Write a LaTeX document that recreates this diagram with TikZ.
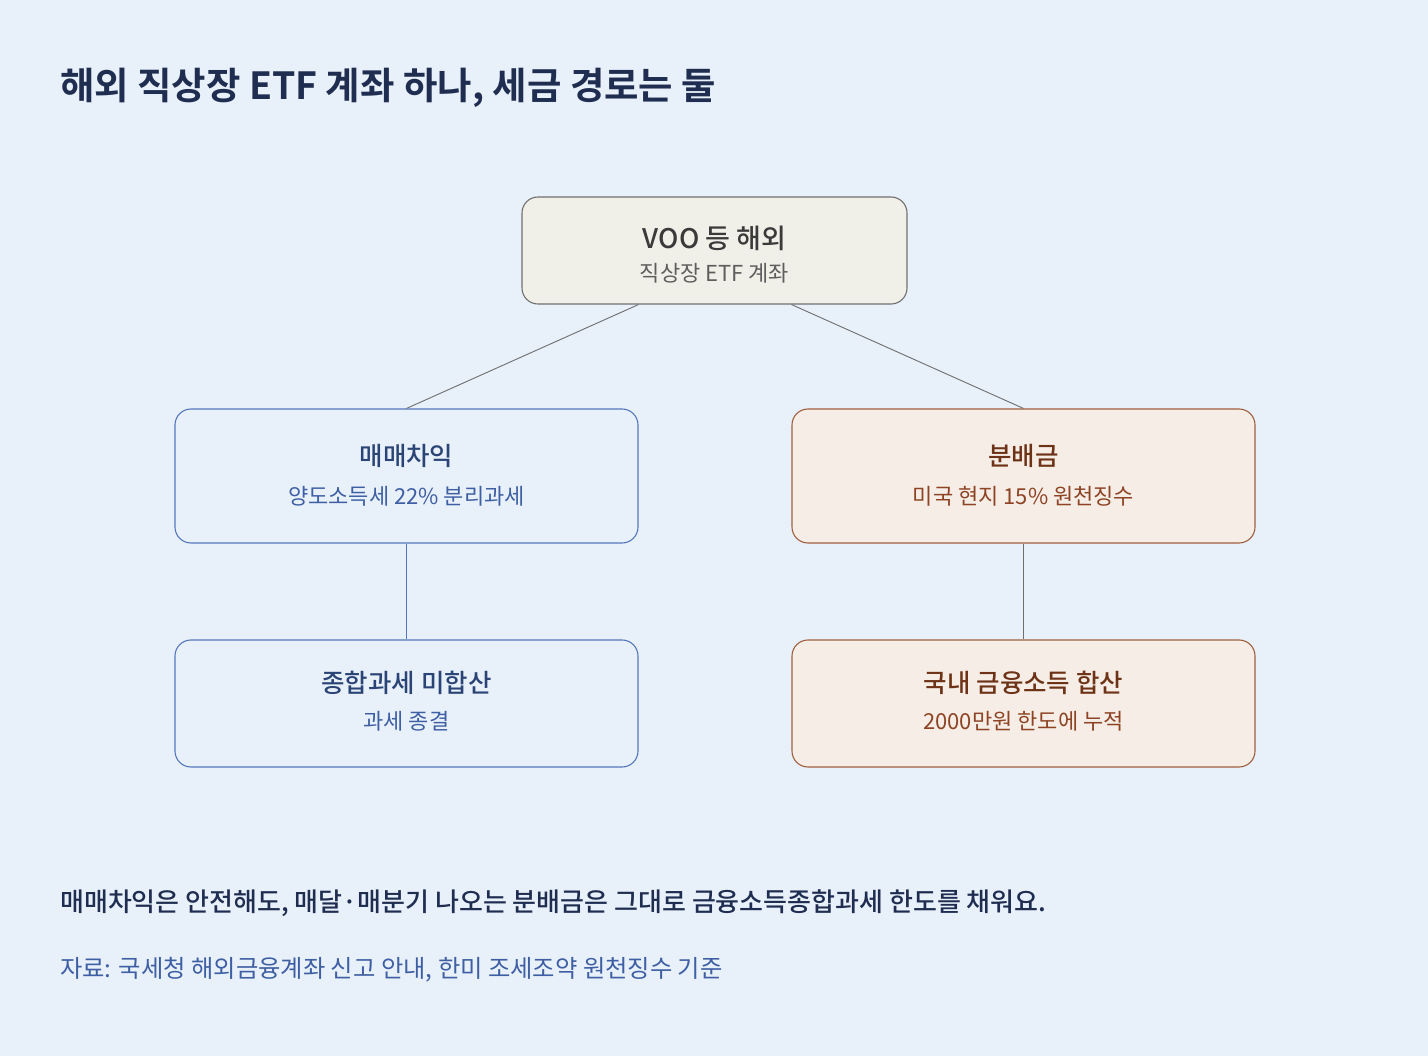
\documentclass[tikz,border=0pt]{standalone}
\usepackage{fontspec}
\setmainfont{Noto Sans CJK KR}[BoldFont={Noto Sans CJK KR Medium}]
\newfontfamily\heavyfont{Noto Sans CJK KR Bold}
\definecolor{bg}{HTML}{E8F0FA}
\definecolor{navy}{HTML}{1F2D50}
\definecolor{topfill}{HTML}{F1F0E8}
\definecolor{topline}{HTML}{707070}
\definecolor{toptext}{HTML}{3A3A3A}
\definecolor{topsub}{HTML}{5E5E5E}
\definecolor{bluefill}{HTML}{E8F0FA}
\definecolor{blueline}{HTML}{5577BB}
\definecolor{bluetitle}{HTML}{2B4476}
\definecolor{bluesub}{HTML}{3E5FA3}
\definecolor{brownfill}{HTML}{F5EDE6}
\definecolor{brownline}{HTML}{A0603F}
\definecolor{browntitle}{HTML}{6E3317}
\definecolor{brownsub}{HTML}{8E4424}
\definecolor{conn}{HTML}{6E6E6E}
\tikzset{
  boxbase/.style={rounded corners=16pt, line width=1.1pt, inner sep=0pt},
  topbox/.style={boxbase, draw=topline, fill=topfill, minimum width=385pt, minimum height=107pt},
  bluebox/.style={boxbase, draw=blueline, fill=bluefill, minimum width=463pt},
  brownbox/.style={boxbase, draw=brownline, fill=brownfill, minimum width=463pt},
  ttl/.style={anchor=base, inner sep=0pt, font=\fontsize{25.5pt}{30pt}\selectfont\bfseries},
  sub/.style={anchor=base, inner sep=0pt, font=\fontsize{22pt}{26pt}\selectfont},
  link/.style={line width=0.9pt},
}
\begin{document}
\begin{tikzpicture}[x=1pt,y=-1pt]
\fill[bg] (0,0) rectangle (1428,1056);
\useasboundingbox (0,0) rectangle (1428,1056);

\node[anchor=base west, inner sep=0pt, text=navy, font=\fontsize{37.4pt}{42pt}\selectfont\heavyfont] (title) at (60,100) {해외 직상장 ETF 계좌 하나, 세금 경로는 둘};

\node[topbox] (top) at (714.5,250.5) {};
\node[ttl, text=toptext, font=\fontsize{27pt}{32pt}\selectfont\bfseries] (topT) at (top.center |- 0,249) {VOO 등 해외};
\node[sub, text=topsub] (topS) at (top.center |- 0,282) {직상장 ETF 계좌};

\node[bluebox, minimum height=134pt] (gain) at (406.5,476) {};
\node[ttl, text=bluetitle] (gainT) at (gain.center |- 0,466) {매매차익};
\node[sub, text=bluesub] (gainS) at (gain.center |- 0,504) {양도소득세 22\% 분리과세};

\node[brownbox, minimum height=134pt] (div) at (1023.5,476) {};
\node[ttl, text=browntitle] (divT) at (div.center |- 0,466) {분배금};
\node[sub, text=brownsub] (divS) at (div.center |- 0,504) {미국 현지 15\% 원천징수};

\node[bluebox, minimum height=127pt] (sep) at (406.5,703.5) {};
\node[ttl, text=bluetitle] (sepT) at (sep.center |- 0,692) {종합과세 미합산};
\node[sub, text=bluesub] (sepS) at (sep.center |- 0,729) {과세 종결};

\node[brownbox, minimum height=127pt] (sum) at (1023.5,703.5) {};
\node[ttl, text=browntitle] (sumT) at (sum.center |- 0,692) {국내 금융소득 합산};
\node[sub, text=brownsub] (sumS) at (sum.center |- 0,729) {2000만원 한도에 누적};

\coordinate (topL) at ([xshift=-76pt]top.south);
\coordinate (topR) at ([xshift=77pt]top.south);
\draw[link, draw=conn] (topL) -- (gain.north);
\draw[link, draw=conn] (topR) -- (div.north);
\draw[link, draw=blueline] (gain.south) -- (sep.north);
\draw[link, draw=conn] (div.south) -- (sum.north);

\node[anchor=base west, inner sep=0pt, text=navy, font=\fontsize{26pt}{30pt}\selectfont\bfseries] (note) at (60,911) {매매차익은 안전해도, 매달·매분기 나오는 분배금은 그대로 금융소득종합과세 한도를 채워요.};
\node[anchor=base west, inner sep=0pt, text=bluesub, font=\fontsize{24.3pt}{28pt}\selectfont] (src) at (60,977) {자료: 국세청 해외금융계좌 신고 안내, 한미 조세조약 원천징수 기준};
\end{tikzpicture}
\end{document}
